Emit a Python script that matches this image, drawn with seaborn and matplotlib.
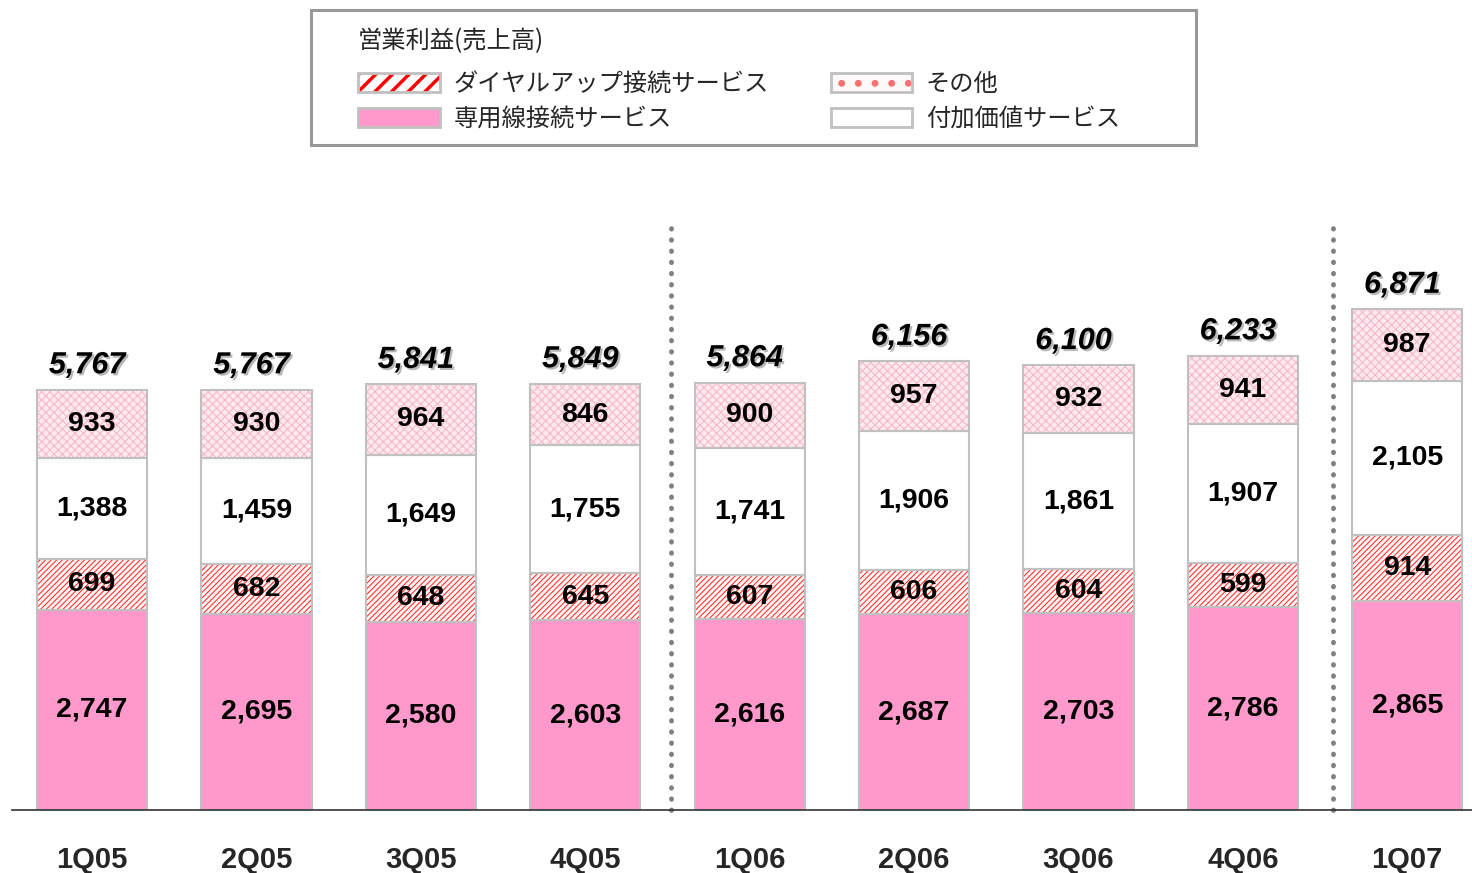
import matplotlib
matplotlib.use("Agg")
import matplotlib.pyplot as plt
import matplotlib.patheffects as pe
from matplotlib.patches import Patch, Rectangle
from matplotlib.legend_handler import HandlerTuple
import numpy as np
import pandas as pd
import seaborn as sns

# データ（単位：百万円）
quarters = ["1Q05", "2Q05", "3Q05", "4Q05", "1Q06", "2Q06", "3Q06", "4Q06", "1Q07"]
leased = [2747, 2695, 2580, 2603, 2616, 2687, 2703, 2786, 2865]
dialup = [699, 682, 648, 645, 607, 606, 604, 599, 914]
vas = [1388, 1459, 1649, 1755, 1741, 1906, 1861, 1907, 2105]
other = [933, 930, 964, 846, 900, 957, 932, 941, 987]
totals = [5767, 5767, 5841, 5849, 5864, 6156, 6100, 6233, 6871]

series_names = ["専用線接続サービス", "ダイヤルアップ接続サービス", "付加価値サービス", "その他"]
legend_title = "営業利益(売上高)"

sns.set_theme(style="white")
plt.rcParams["font.family"] = ["Liberation Sans", "Noto Sans CJK JP", "DejaVu Sans"]
plt.rcParams["hatch.linewidth"] = 0.7

df = pd.DataFrame({"q": quarters, "leased": leased, "dialup": dialup,
                   "vas": vas, "other": other})
df["c1"] = df["leased"]
df["c2"] = df["c1"] + df["dialup"]
df["c3"] = df["c2"] + df["vas"]
df["c4"] = df["c3"] + df["other"]

fig = plt.figure(figsize=(14.72, 8.73), dpi=100)
ax = fig.add_axes([12 / 1472, 63 / 873, 1460 / 1472, 583 / 873])

W = 0.67
EDGE = "#c0c0c0"
# 上の層から順に累積値を重ねて描く
layers = [
    ("c4", "#fdeaef", "xxxx", "#f6b4c4"),
    ("c3", "white", None, "white"),
    ("c2", "#fff4f4", "//////", "#ff2020"),
    ("c1", "#ff99cc", None, "#ff99cc"),
]
for col, face, hatch, hcol in layers:
    sns.barplot(data=df, x="q", y=col, order=quarters, ax=ax, color=face,
                saturation=1, width=W, hatch=hatch, edgecolor=hcol, linewidth=0)

# 区切り線
x = np.arange(len(quarters))
bottoms = [np.zeros(len(x)), df["c1"].values, df["c2"].values, df["c3"].values]
heights = [df["leased"].values, df["dialup"].values, df["vas"].values, df["other"].values]
for b, h in zip(bottoms, heights):
    ax.bar(x, h, bottom=b, width=W, fill=False, edgecolor=EDGE, linewidth=1.5)

# 値ラベル
for b, h in zip(bottoms, heights):
    for i in range(len(x)):
        ax.text(x[i], b[i] + h[i] / 2, f"{h[i]:,}", ha="center", va="center",
                fontsize=20.5, fontweight="bold", color="black")

shadow = [pe.SimplePatchShadow(offset=(1.5, -1.5), shadow_rgbFace="#999999", alpha=0.7),
          pe.Normal()]
for i, t in enumerate(totals):
    ax.text(x[i] - 0.03, df["c4"][i] + 130, f"{t:,}", ha="center", va="bottom",
            fontsize=22, fontweight="bold", fontstyle="italic", color="black",
            path_effects=shadow)

# 年度の区切り（点線）
for xv in [3.52, 7.55]:
    ax.plot([xv, xv], [0, 8000], color="#808080", linestyle=(0, (0.1, 2.2)),
            linewidth=3.5, dash_capstyle="round", solid_capstyle="round", clip_on=False)

ax.set_xlim(-0.487, 8.394)
ax.set_ylim(0, 8000)
ax.set_xlabel("")
ax.set_ylabel("")
ax.set_yticks([])
ax.tick_params(axis="x", length=0, pad=26, labelsize=21)
for lab in ax.get_xticklabels():
    lab.set_fontweight("bold")
for s in ["top", "left", "right"]:
    ax.spines[s].set_visible(False)
ax.spines["bottom"].set_color("#333333")
ax.spines["bottom"].set_linewidth(1.2)

# 凡例
fig.patches.append(Rectangle((311 / 1472, 1 - 145 / 873), 885 / 1472, 135 / 873,
                             transform=fig.transFigure, fill=False,
                             edgecolor="#999999", linewidth=2.2))
fig.text(358 / 1472, 1 - 41 / 873, legend_title, fontsize=17.5, va="center", ha="left",
         family=["Noto Sans CJK JP"])

box = lambda: Patch(facecolor="none", edgecolor=EDGE, linewidth=2)
with plt.rc_context({"hatch.linewidth": 2.5}):
    handles = [
        (Patch(facecolor="white", edgecolor="#ff0000", hatch="//", linewidth=0), box()),
        (Patch(facecolor="#ff99cc", edgecolor="none", linewidth=0), box()),
        (Patch(facecolor="#fffafa", edgecolor="#ff7070", hatch=".", linewidth=0), box()),
        (Patch(facecolor="white", edgecolor="none", linewidth=0), box()),
    ]
    labels = [series_names[1], series_names[0], series_names[3], series_names[2]]
    leg = fig.legend(handles, labels, loc="upper left",
                     bbox_to_anchor=(358 / 1472, 1 - 71 / 873), ncol=2, frameon=False,
                     prop={"family": "Noto Sans CJK JP", "size": 17.5},
                     handler_map={tuple: HandlerTuple(ndivide=1, pad=0)},
                     handlelength=3.37, handleheight=0.82, handletextpad=0.55,
                     labelspacing=0.36, columnspacing=2.55, borderpad=0, borderaxespad=0)

fig.savefig("out.png", dpi=100)
